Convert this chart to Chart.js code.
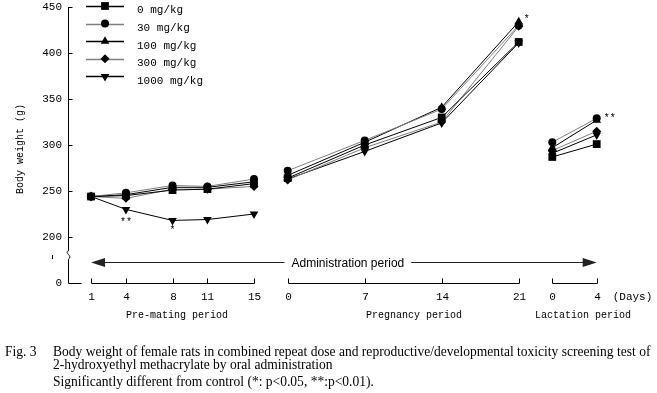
<!DOCTYPE html>
<html><head><meta charset="utf-8">
<script src="https://cdn.jsdelivr.net/npm/chart.js@4/dist/chart.umd.min.js"></script>
<style>
html,body{margin:0;padding:0;background:#fff;}
#wrap{position:relative;width:657px;height:393px;overflow:hidden;}
canvas{position:absolute;left:0;top:0;}
.cap{position:absolute;font-family:"Liberation Serif","DejaVu Serif",serif;font-size:12.5px;color:#000;white-space:nowrap;line-height:14px;}
</style></head><body>
<div id="wrap">
<canvas id="c" width="657" height="393"></canvas>
<div class="cap" id="figlab" style="left:5px;top:345px;">Fig. 3</div>
<div class="cap" id="cap1" style="left:53px;top:345px;">Body weight of female rats in combined repeat dose and reproductive/developmental toxicity screening test of</div>
<div class="cap" id="cap2" style="left:53px;top:358px;">2-hydroxyethyl methacrylate by oral administration</div>
<div class="cap" id="cap3" style="left:53px;top:375px;">Significantly different from control (*: p&lt;0.05, **:p&lt;0.01).</div>
</div>
<script>
// ---------------- DATA ----------------
const seriesNames = ['0 mg/kg', '30 mg/kg', '100 mg/kg', '300 mg/kg', '1000 mg/kg'];
const preMatingDays = [1, 4, 8, 11, 15];
const pregnancyDays = [0, 7, 14, 21];
const lactationDays = [0, 4];
const yTickValues = [150, 200, 250, 300, 350, 400, 450];
const yTickLabels = ['0', '200', '250', '300', '350', '400', '450'];

const pre_0    = [244, 245, 251, 252, 258];
const pre_30   = [244, 248, 256, 255, 263];
const pre_100  = [244, 246, 254, 254, 260];
const pre_300  = [244, 242, 252, 252, 255];
const pre_1000 = [244, 230, 218, 219, 225];

const preg_0    = [264, 300, 330, 412];
const preg_30   = [272, 305, 339, 430];
const preg_100  = [267, 303, 341, 434];
const preg_300  = [262, 297, 325, 429];
const preg_1000 = [263, 293, 324, 411];

const lact_0    = [287, 301];
const lact_30   = [303, 329];
const lact_100  = [297, 327];
const lact_300  = [294, 315];
const lact_1000 = [291, 311];

// significance marks: series index, segment, point index, text
const sigMarks = [
  {series: 4, seg: 'pre',  idx: 1, text: '**'},
  {series: 4, seg: 'pre',  idx: 2, text: '*'},
  {series: 2, seg: 'preg', idx: 3, text: '*'},
  {series: 1, seg: 'lact', idx: 1, text: '**'}
];
const periodNames = {pre: 'Pre-mating period', preg: 'Pregnancy period', lact: 'Lactation period'};
const adminText = 'Administration period';
const yTitle = 'Body weight (g)';
const daysText = '(Days)';

// ---------------- LAYOUT / STYLE ----------------
const segLayout = {
  pre:  {origin: 10.4,  perDay: 11.64},
  preg: {origin: 218.7, perDay: 11.0},
  lact: {origin: 483.3, perDay: 11.1}
};
const segDays = {pre: preMatingDays, preg: pregnancyDays, lact: lactationDays};
const segVals = {
  pre:  [pre_0, pre_30, pre_100, pre_300, pre_1000],
  preg: [preg_0, preg_30, preg_100, preg_300, preg_1000],
  lact: [lact_0, lact_30, lact_100, lact_300, lact_1000]
};
const sigOffsets = [ {dx: 0, dy: 13, align: 'center'}, {dx: 0, dy: 10, align: 'center'}, {dx: 5, dy: -2, align: 'left'}, {dx: 7, dy: 0, align: 'left'} ];
const lineColors = ['#000', '#808080', '#000', '#808080', '#000'];
const pStyles = ['rect', 'circle', 'triangle', 'rectRot', 'triangle'];
const pRot = [0, 0, 0, 0, 180];
const pRad = [5.5, 4, 5, 4.5, 5];
const periodLabelShift = {pre: 4, preg: 10, lact: 8};
const breakRange = [176, 185];
const MONO = '"Liberation Mono", "DejaVu Sans Mono", monospace';

function xPos(seg, day) { return segLayout[seg].origin + segLayout[seg].perDay * day; }

const datasets = seriesNames.map((name, i) => {
  const data = [];
  ['pre', 'preg', 'lact'].forEach((seg, k) => {
    segDays[seg].forEach((d, j) => data.push({x: xPos(seg, d), y: segVals[seg][i][j]}));
    if (k < 2) data.push({x: xPos(seg, segDays[seg][segDays[seg].length - 1]) + 10, y: null});
  });
  return {
    label: name, data,
    borderColor: lineColors[i], borderWidth: 1,
    pointStyle: pStyles[i], rotation: pRot[i], pointRadius: pRad[i],
    pointBackgroundColor: '#000', pointBorderColor: '#000', pointBorderWidth: 0,
    spanGaps: false, tension: 0
  };
});

const decor = {
  id: 'decor',
  afterDatasetsDraw(chart) {
    const ctx = chart.ctx, xs = chart.scales.x, ys = chart.scales.y, a = chart.chartArea;
    const X = (seg, d) => xs.getPixelForValue(xPos(seg, d));
    const Y = v => ys.getPixelForValue(v);
    ctx.save();
    ctx.strokeStyle = '#000'; ctx.fillStyle = '#000'; ctx.lineWidth = 1;
    // y axis with break
    const ax = Math.round(a.left) - 0.5;
    const yTop = Y(450), yBot = Math.round(Y(150)) + 0.5;
    const b1 = Y(breakRange[1]), b0 = Y(breakRange[0]);
    ctx.beginPath();
    ctx.moveTo(ax, yTop); ctx.lineTo(ax, b1);
    ctx.bezierCurveTo(ax - 5, b1 + 2, ax + 5, b0 - 3, ax, b0);
    ctx.lineTo(ax, yBot);
    ctx.stroke();
    ctx.beginPath(); ctx.moveTo(ax - 16, b0 - 4); ctx.lineTo(ax - 16, b0); ctx.stroke();
    yTickValues.forEach(v => { if (v >= 200) { const y = Math.round(Y(v)) + 0.5; ctx.beginPath(); ctx.moveTo(ax, y); ctx.lineTo(ax + 4, y); ctx.stroke(); } });
    ctx.beginPath(); ctx.moveTo(ax, yBot); ctx.lineTo(ax + 13, yBot); ctx.stroke();
    // y title
    ctx.save();
    ctx.translate(20, 149); ctx.rotate(-Math.PI / 2);
    ctx.font = '10px ' + MONO; ctx.textAlign = 'center'; ctx.textBaseline = 'middle';
    ctx.fillText(yTitle, 0, 0);
    ctx.restore();
    // brackets + tick labels + period labels
    ctx.font = '11px ' + MONO; ctx.textBaseline = 'middle';
    ['pre', 'preg', 'lact'].forEach(seg => {
      const ds = segDays[seg];
      const xa = Math.round(X(seg, ds[0])) + 0.5, xb = Math.round(X(seg, ds[ds.length - 1])) + 0.5;
      ctx.beginPath(); ctx.moveTo(xa, yBot); ctx.lineTo(xb, yBot); ctx.stroke();
      ds.forEach(d => {
        const xx = Math.round(X(seg, d)) + 0.5;
        ctx.beginPath(); ctx.moveTo(xx, yBot); ctx.lineTo(xx, yBot - 5); ctx.stroke();
        ctx.textAlign = 'center';
        ctx.font = '11px ' + MONO;
        ctx.fillText(String(d), xx, yBot + 14);
      });
      ctx.font = '10px ' + MONO; ctx.textAlign = 'center';
      ctx.fillText(periodNames[seg], (xa + xb) / 2 + periodLabelShift[seg], yBot + 32);
    });
    ctx.font = '11px ' + MONO; ctx.textAlign = 'left';
    ctx.fillText(daysText, X('lact', 4) + 16, yBot + 14);
    // administration arrow
    const ay = Math.round(yBot - 22) + 0.5;
    const xl = X('pre', preMatingDays[0]), xr = X('lact', lactationDays[lactationDays.length - 1]);
    ctx.font = '12px "Liberation Sans", Arial, sans-serif';
    const tw = ctx.measureText(adminText).width;
    const tc = (xl + xr) / 2 + 4;
    ctx.strokeStyle = '#222'; ctx.fillStyle = '#222';
    ctx.beginPath();
    ctx.moveTo(xl + 10, ay); ctx.lineTo(tc - tw / 2 - 7, ay);
    ctx.moveTo(tc + tw / 2 + 7, ay); ctx.lineTo(xr - 10, ay);
    ctx.stroke();
    ctx.beginPath(); ctx.moveTo(xl, ay); ctx.lineTo(xl + 14, ay - 4.5); ctx.lineTo(xl + 14, ay + 4.5); ctx.closePath(); ctx.fill();
    ctx.beginPath(); ctx.moveTo(xr, ay); ctx.lineTo(xr - 14, ay - 4.5); ctx.lineTo(xr - 14, ay + 4.5); ctx.closePath(); ctx.fill();
    ctx.fillStyle = '#000'; ctx.textAlign = 'center'; ctx.textBaseline = 'middle';
    ctx.fillText(adminText, tc, ay + 1);
    // significance marks
    ctx.font = '10px ' + MONO; ctx.fillStyle = '#000';
    sigMarks.forEach((m, k) => {
      const o = sigOffsets[k];
      const d = segDays[m.seg][m.idx];
      const v = segVals[m.seg][m.series][m.idx];
      ctx.textAlign = o.align;
      ctx.fillText(m.text, X(m.seg, d) + o.dx, Y(v) + o.dy);
    });
    // legend
    const lx0 = a.left + 17, lx1 = a.left + 55, lmx = a.left + 36, ltx = a.left + 68;
    chart.data.datasets.forEach((dset, i) => {
      const ly = a.top - 1 + i * 17.6;
      ctx.strokeStyle = dset.borderColor; ctx.lineWidth = 1.5;
      ctx.beginPath(); ctx.moveTo(lx0, Math.round(ly) + 0.5); ctx.lineTo(lx1, Math.round(ly) + 0.5); ctx.stroke();
      ctx.fillStyle = '#000';
      Chart.helpers.drawPoint(ctx, {pointStyle: dset.pointStyle, rotation: dset.rotation, radius: dset.pointRadius, borderWidth: 0}, lmx, ly);
      ctx.fillStyle = '#000'; ctx.font = '11px ' + MONO; ctx.textAlign = 'left'; ctx.textBaseline = 'middle';
      ctx.fillText(dset.label, ltx, ly + 4.5);
    });
    ctx.restore();
  }
};

new Chart(document.getElementById('c'), {
  type: 'line',
  data: {datasets},
  options: {
    responsive: false, animation: false,
    layout: {padding: {left: 0, top: 7, right: 17, bottom: 110}},
    plugins: {legend: {display: false}, tooltip: {enabled: false}},
    scales: {
      x: {type: 'linear', min: 0, max: 571, display: false},
      y: {
        type: 'linear', min: 150, max: 450,
        afterFit(s) { s.width = 69; s.paddingTop = 0; s.paddingBottom = 0; },
        afterBuildTicks(s) { s.ticks = yTickValues.map(v => ({value: v})); },
        grid: {display: false, drawTicks: false},
        border: {display: false},
        ticks: {
          padding: 7, color: '#000', font: {family: MONO, size: 11},
          callback: (v) => { const i = yTickValues.indexOf(v); return i >= 0 ? yTickLabels[i] : ''; }
        }
      }
    }
  },
  plugins: [decor]
});

// fit caption width
(function(){
  const c1 = document.getElementById('cap1');
  const target = 598;
  const w = c1.getBoundingClientRect().width;
  const fs = 12.5 * target / w;
  document.querySelectorAll('.cap').forEach(e => e.style.fontSize = fs.toFixed(2) + 'px');
})();
</script>
</body></html>
